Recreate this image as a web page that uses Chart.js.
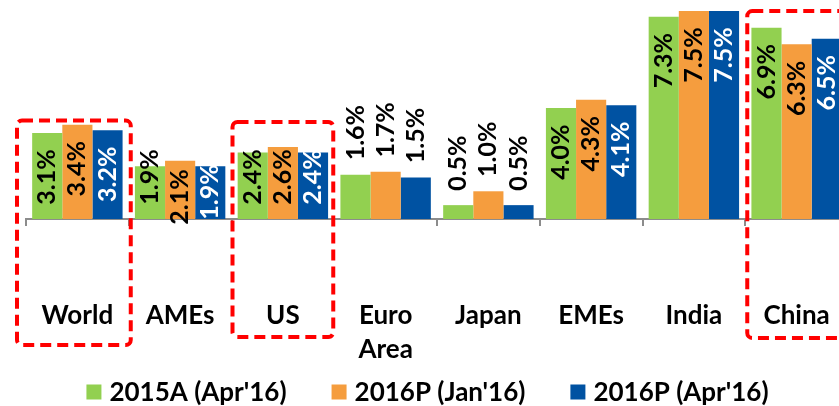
<!DOCTYPE html>
<html>
<head>
<meta charset="utf-8">
<script src="https://cdn.jsdelivr.net/npm/chart.js@4.4.1/dist/chart.umd.min.js"></script>
<style>
  html, body { margin: 0; padding: 0; background: #fff; overflow: hidden; }
  #wrap { width: 855px; height: 406px; }
</style>
</head>
<body>
<div id="wrap"><canvas id="gdp"></canvas></div>
<script>
// GDP growth: actual vs projections (IMF WEO)
const categories = ['World', 'AMEs', 'US', ['Euro', 'Area'], 'Japan', 'EMEs', 'India', 'China'];
const seriesNames = ["2015A (Apr'16)", "2016P (Jan'16)", "2016P (Apr'16)"];
const actual2015 = [3.1, 1.9, 2.4, 1.6, 0.5, 4.0, 7.3, 6.9];
const proj2016Jan = [3.4, 2.1, 2.6, 1.7, 1.0, 4.3, 7.5, 6.3];
const proj2016Apr = [3.2, 1.9, 2.4, 1.5, 0.5, 4.1, 7.5, 6.5];

const colors = ['#92D050', '#F59D3E', '#0052A2'];
const FONT = 'Lato, "Open Sans", sans-serif';

// where the value labels sit, per category: inside the bar top or above it
const labelMode = ['in', 'in', 'in', 'out', 'out', 'in', 'in', 'in'];
// a few labels that Excel shoved down (AMEs)
const labelNudge = { 1: [0, 20, 15] };

// red dashed highlight boxes
const highlights = [
    { index: 0, topValue: 3.55, bottomOffset: 126, padLeft: 9, padRight: 2 },
    { index: 2, topValue: 3.5, bottomOffset: 118, padLeft: -1, padRight: -1 },
    { index: 7, topValue: 7.5, bottomOffset: 119, padLeft: -2, padRight: -2 }
];

const barLabels = {
    id: 'barLabels',
    afterDatasetsDraw(chart) {
        const ctx = chart.ctx;
        const axisY = chart.scales.y.getPixelForValue(0);
        ctx.save();
        ctx.font = 'bold 25px ' + FONT;
        ctx.textAlign = 'center';
        ctx.textBaseline = 'middle';
        chart.data.datasets.forEach((ds, di) => {
            const meta = chart.getDatasetMeta(di);
            meta.data.forEach((bar, i) => {
                let cy;
                if (labelMode[i] === 'out') {
                    cy = bar.y - 42;
                } else {
                    cy = Math.min(bar.y + 44, axisY - 42);
                }
                if (labelNudge[i]) cy += labelNudge[i][di];
                ctx.fillStyle = (labelMode[i] === 'in' && di === 2) ? '#fff' : '#000';
                ctx.save();
                ctx.translate(bar.x, cy);
                ctx.rotate(-Math.PI / 2);
                ctx.fillText(ds.data[i].toFixed(1) + '%', 0, 0);
                ctx.restore();
            });
        });
        ctx.restore();
    }
};

const highlightBoxes = {
    id: 'highlightBoxes',
    afterDraw(chart) {
        const ctx = chart.ctx;
        const x = chart.scales.x;
        const y = chart.scales.y;
        const half = (x.getPixelForValue(1) - x.getPixelForValue(0)) / 2;
        const axisY = y.getPixelForValue(0);
        ctx.save();
        ctx.strokeStyle = '#FF0000';
        ctx.lineWidth = 4;
        ctx.setLineDash([11, 6]);
        highlights.forEach(h => {
            const cx = x.getPixelForValue(h.index);
            const left = cx - half - h.padLeft;
            const right = cx + half + h.padRight;
            const top = y.getPixelForValue(h.topValue);
            const bottom = axisY + h.bottomOffset;
            ctx.beginPath();
            ctx.roundRect(left, top, right - left, bottom - top, 5);
            ctx.stroke();
        });
        ctx.restore();
    }
};

// legend drawn by hand so the box/text gap and item spacing match
const bottomLegend = {
    id: 'bottomLegend',
    afterDraw(chart) {
        const ctx = chart.ctx;
        const box = 15, gapText = 8, gapItem = 45;
        const cy = chart.height - 14;
        ctx.save();
        ctx.font = 'bold 26px ' + FONT;
        ctx.textBaseline = 'middle';
        const widths = seriesNames.map(s => ctx.measureText(s).width);
        const total = widths.reduce((a, w) => a + box + gapText + w, 0) + gapItem * (seriesNames.length - 1);
        let x = (chart.width - total) / 2;
        seriesNames.forEach((s, i) => {
            ctx.fillStyle = colors[i];
            ctx.fillRect(x, cy - box / 2, box, box);
            ctx.fillStyle = '#000';
            ctx.fillText(s, x + box + gapText, cy + 1);
            x += box + gapText + widths[i] + gapItem;
        });
        ctx.restore();
    }
};

const ctx = document.getElementById('gdp').getContext('2d');
new Chart(ctx, {
    type: 'bar',
    data: {
        labels: categories,
        datasets: [actual2015, proj2016Jan, proj2016Apr].map((d, i) => ({
            label: seriesNames[i],
            data: d,
            backgroundColor: colors[i],
            borderWidth: 0,
            categoryPercentage: 0.88,
            barPercentage: 1.0
        }))
    },
    options: {
        responsive: true,
        maintainAspectRatio: false,
        animation: false,
        layout: { padding: { left: 26, right: 7, top: 0, bottom: 37 } },
        plugins: {
            tooltip: { enabled: false },
            legend: { display: false }
        },
        scales: {
            x: {
                afterFit(scale) {
                    scale.height = 150;
                    scale.paddingLeft = 0;
                    scale.paddingRight = 0;
                },
                grid: {
                    drawOnChartArea: false,
                    drawTicks: true,
                    tickLength: 7,
                    color: '#8C8C8C',
                    lineWidth: 2
                },
                border: { display: true, color: '#8C8C8C', width: 2 },
                ticks: {
                    color: '#000',
                    padding: 72,
                    maxRotation: 0,
                    autoSkip: false,
                    font: { family: FONT, size: 26, weight: 'bold', lineHeight: 1.33 }
                }
            },
            y: {
                display: false,
                min: 0,
                max: 7.9
            }
        }
    },
    plugins: [barLabels, highlightBoxes, bottomLegend]
});
</script>
</body>
</html>
